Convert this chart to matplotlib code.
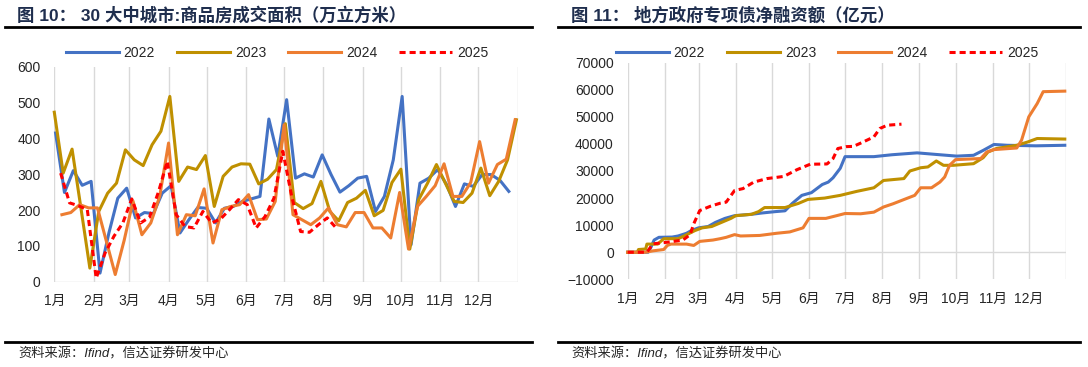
import numpy as np
import pandas as pd
import matplotlib
matplotlib.use('Agg')
import matplotlib.pyplot as plt
from matplotlib.lines import Line2D

plt.rcParams['font.family'] = ['Liberation Sans', 'Noto Sans CJK SC']

# Month axis (day of year, non-leap year)
month_labels = [f'{i}月' for i in range(1, 13)]
month_starts = list(pd.date_range('2023-01-01', periods=12, freq='MS').dayofyear - 1)

years = ['2022', '2023', '2024', '2025']
colors = ['#4472C4', '#BF9000', '#ED7D31', '#FF0000']

# ---- Chart 1: weekly transaction area, 30 cities (10k m2) ----
start_2022, start_2023, start_2024, start_2025 = '2022-01-02', '2023-01-01', '2024-01-07', '2025-01-06'
area_2022 = [415, 249, 310, 269, 280, 24, 136, 233, 261, 178, 193, 190, 247, 268, 136, 173, 207, 205,
             164, 205, 210, 224, 231, 238, 454, 350, 508, 289, 301, 292, 354, 299, 250, 268, 289, 294,
             196, 238, 340, 517, 103, 275, 289, 313, 271, 210, 273, 266, 299, 299, 283, 252]
area_2023 = [473, 303, 370, 205, 38, 196, 247, 275, 368, 340, 324, 382, 420, 517, 280, 320, 313, 352,
             210, 294, 320, 329, 328, 273, 286, 313, 441, 221, 204, 218, 280, 196, 170, 221, 233, 255,
             184, 199, 277, 314, 91, 229, 275, 327, 275, 224, 221, 247, 317, 240, 280, 340, 452]
area_2024 = [187, 193, 215, 206, 206, 113, 20, 115, 225, 131, 164, 238, 387, 131, 187, 184, 259,
             108, 201, 210, 215, 243, 173, 175, 224, 438, 187, 173, 159, 178, 206, 159, 153, 193, 193,
             150, 150, 122, 249, 91, 210, 238, 268, 329, 238, 238, 277, 391, 275, 327, 342, 452]
area_2025 = [303, 220, 212, 201, 10, 80, 127, 164, 231, 164, 180, 250, 336, 187, 154, 150, 196,
             164, 175, 201, 229, 215, 150, 182, 233, 364, 238, 140, 138, 159, 178, 150]

# ---- Chart 2: cumulative special bond net financing (100m yuan) ----
bond_dates_2022 = ['01-01', '01-18', '01-20', '01-23', '01-27', '02-07', '02-12', '02-19', '02-23', '03-01',
                   '03-09', '03-15', '03-23', '03-31', '04-14', '04-23', '05-04', '05-12', '05-18', '05-26',
                   '06-03', '06-12', '06-17', '06-21', '06-27', '07-01', '07-25', '08-09', '08-30', '09-18',
                   '10-02', '10-16', '10-24', '11-02', '11-13', '12-07', '12-31']
bond_2022 = [0, 0, 1500, 4500, 5500, 5600, 6000, 7000, 8000, 9000,
             9500, 11000, 12500, 13500, 14000, 14500, 15000, 15300, 18000, 21000,
             22000, 25000, 25900, 27500, 31000, 35300, 35300, 36000, 36700, 36000,
             35500, 35800, 37600, 39800, 39500, 39300, 39500]
bond_dates_2023 = ['01-01', '01-09', '01-10', '01-16', '01-17', '01-26', '01-31', '02-12', '02-17', '02-26',
                   '03-04', '03-12', '03-20', '03-28', '04-01', '04-14', '04-20', '04-25', '05-12', '05-23',
                   '05-31', '06-14', '06-27', '07-11', '07-25', '08-02', '08-19', '08-24', '09-02', '09-08',
                   '09-15', '09-21', '09-29', '10-16', '10-24', '10-28', '11-04', '11-21', '11-30', '12-08', '12-31']
bond_2023 = [0, 0, 1000, 1200, 3000, 3000, 5000, 5000, 6000, 8000,
             9000, 9500, 11000, 12500, 13500, 14000, 15000, 16500, 16500, 18000,
             19500, 20000, 21000, 22500, 23800, 26500, 27200, 30000, 31200, 31500,
             33700, 32100, 32100, 32700, 34900, 37000, 38300, 39500, 40700, 42000, 41800]
bond_dates_2024 = ['01-01', '01-16', '01-22', '01-31', '02-03', '02-06', '02-19', '02-25', '03-02', '03-13',
                   '03-19', '03-24', '03-31', '04-05', '04-21', '05-05', '05-16', '05-27', '06-01', '06-15',
                   '06-24', '07-01', '07-14', '07-25', '08-02', '08-10', '08-21', '08-28', '09-02', '09-11',
                   '09-18', '09-22', '09-26', '10-01', '10-22', '10-27', '11-02', '11-21', '11-25', '12-01',
                   '12-08', '12-13', '12-31']
bond_2024 = [0, 0, 500, 1000, 2500, 3000, 3000, 2500, 4000, 4500,
             5000, 5500, 6500, 6000, 6200, 7000, 7500, 9000, 12500, 12500,
             13500, 14300, 14200, 14800, 16700, 17900, 19800, 21000, 23800, 23800,
             25900, 27800, 32100, 34200, 34600, 37000, 37900, 38500, 41400, 50000,
             54900, 59300, 59500]
bond_dates_2025 = ['01-01', '01-17', '01-22', '02-05', '02-16', '02-22', '02-25', '03-02', '03-11', '03-19',
                   '03-24', '03-31', '04-07', '04-16', '04-27', '05-11', '05-22', '06-02', '06-16', '06-21',
                   '06-25', '07-02', '07-08', '07-16', '07-25', '07-30', '08-05', '08-17']
bond_2025 = [0, 0, 3100, 3800, 4500, 6500, 10500, 15400, 17000, 18100,
             18500, 22800, 23500, 25900, 27200, 28000, 30500, 32500, 32600, 34600,
             38300, 39000, 39100, 40700, 42600, 45700, 46900, 47300]


def week_days(start, n):
    return pd.date_range(start, periods=n, freq='7D').dayofyear - 1


def md_days(mds):
    return pd.to_datetime(['2023-' + s for s in mds]).dayofyear - 1


W, H = 1088, 367
fig = plt.figure(figsize=(W / 100, H / 100), dpi=100)

grid_color = '#D9D9D9'
text_color = '#262626'
lw = 2.2
dash = (0, (2, 1.3))


def style_axis(ax):
    for s in ax.spines.values():
        s.set_visible(False)
    ax.set_xlim(0, 365)
    ax.set_xticks(month_starts, month_labels)
    ax.grid(axis='x', color=grid_color, lw=1)
    ax.axvline(365, color=grid_color, lw=1, zorder=0)
    ax.set_axisbelow(True)
    ax.tick_params(length=0, labelsize=10, colors=text_color)
    ax.tick_params(axis='x', pad=9)
    ax.tick_params(axis='y', pad=10)


# left chart
ax1 = fig.add_axes([54.3 / W, 1 - 281.7 / H, (517.7 - 54.3) / W, (281.7 - 66.7) / H])
style_axis(ax1)
ax1.set_ylim(0, 600)
ax1.set_yticks(range(0, 601, 100))
ax1.axhline(0, color=grid_color, lw=1, zorder=0)
left_series = [(start_2022, area_2022), (start_2023, area_2023), (start_2024, area_2024), (start_2025, area_2025)]
for (st, vals), c, y in zip(left_series, colors, years):
    ls = dash if y == '2025' else '-'
    ax1.plot(week_days(st, len(vals)), vals, color=c, lw=lw, ls=ls, clip_on=False, label=y)

# right chart
ax2 = fig.add_axes([627.7 / W, 1 - 279.3 / H, (1066 - 627.7) / W, (279.3 - 62.7) / H])
style_axis(ax2)
ax2.set_ylim(-10000, 70000)
ax2.set_yticks(range(-10000, 70001, 10000))
ax2.axhline(0, color=grid_color, lw=1, zorder=0)
right_series = [(bond_dates_2022, bond_2022), (bond_dates_2023, bond_2023),
                (bond_dates_2024, bond_2024), (bond_dates_2025, bond_2025)]
for (ds, vals), c, y in zip(right_series, colors, years):
    ls = dash if y == '2025' else '-'
    ax2.plot(md_days(ds), vals, color=c, lw=lw, ls=ls, clip_on=False, label=y)

# legends
for ax, x0 in [(ax1, 66), (ax2, 616)]:
    h, l = ax.get_legend_handles_labels()
    fig.legend(h, l, loc='center left', bbox_to_anchor=(x0 / W, 1 - 53 / H), ncol=4, frameon=False,
               fontsize=10, handlelength=3.8, handletextpad=0.35, columnspacing=1.6,
               borderpad=0, borderaxespad=0, labelcolor=text_color)

# titles and rules
title_color = '#1F2E4E'
fig.text(17 / W, 1 - 15 / H, '图 10： 30 大中城市:商品房成交面积（万立方米）', fontsize=12.5,
         fontweight='bold', color=title_color, va='center', ha='left')
fig.text(571 / W, 1 - 15 / H, '图 11： 地方政府专项债净融资额（亿元）', fontsize=12.5,
         fontweight='bold', color=title_color, va='center', ha='left')

for x0, x1 in [(5, 532), (558, 1080)]:
    for yy in (27, 342):
        fig.add_artist(Line2D([x0 / W, x1 / W], [1 - yy / H] * 2, transform=fig.transFigure,
                              color='black', lw=2))
    fig.text((x0 + 13) / W, 1 - 354 / H, '资料来源：Ifind，信达证券研发中心', fontsize=9.5,
             style='italic', color=text_color, va='center', ha='left')

fig.savefig('out.png', dpi=100)
